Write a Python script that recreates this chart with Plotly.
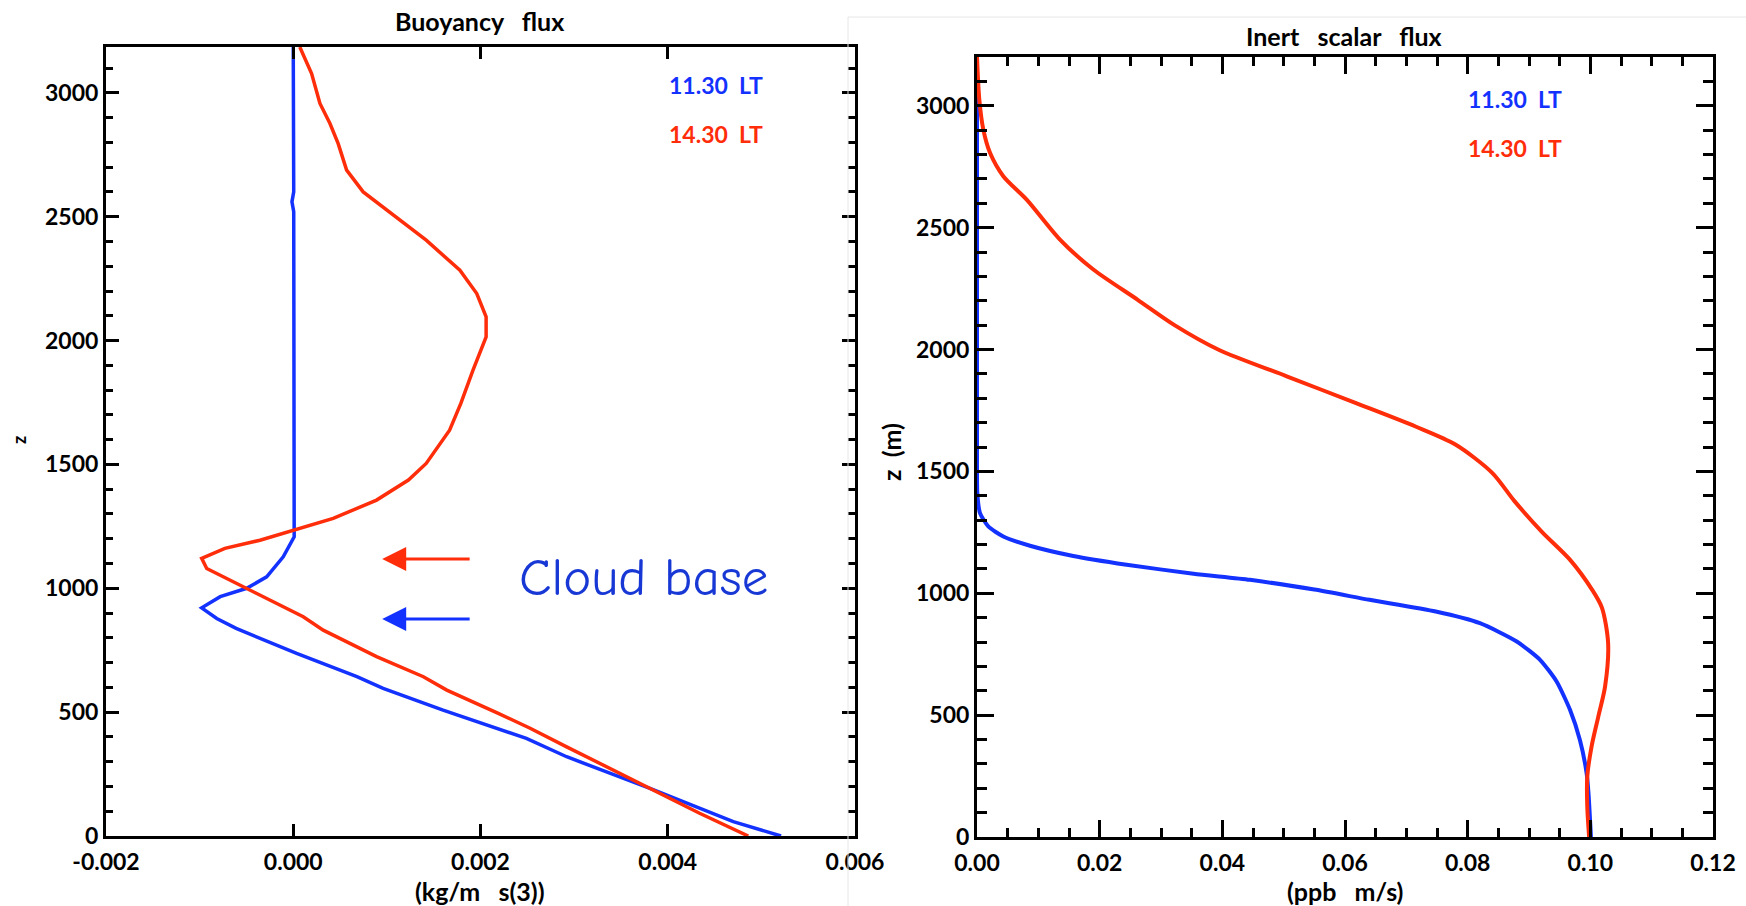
import plotly.graph_objects as go

# ---------------- data: Buoyancy flux (left) ----------------
z_b_1130 = [3185, 3000, 2800, 2600, 2560, 2520, 2300, 2000, 1800, 1600, 1437, 1275, 1208,
            1127, 1046, 1000, 966, 921, 878, 838, 737, 643, 596, 508, 428, 394, 320, 192, 58, 0]
b_1130 = [0.0, 0.000003, 0.000005, 0.000005, -0.000014, 0.000005, 0.000006, 0.000006, 0.000006,
          0.000006, 0.000004, 0.000007, 0.00001, -0.000107, -0.000284, -0.000497, -0.00078,
          -0.000978, -0.000817, -0.00061, 0.000036, 0.00068, 0.00096, 0.0016, 0.00221, 0.00249,
          0.00292, 0.00381, 0.0047, 0.00521]

z_b_1430 = [3185, 3078, 2957, 2876, 2795, 2688, 2600, 2519, 2405, 2284, 2190, 2096, 2015, 1881,
            1746, 1638, 1504, 1437, 1356, 1282, 1235, 1194, 1161, 1121, 1080, 993, 885, 831, 724,
            643, 589, 495, 435, 360, 192, 92, 0]
b_1430 = [0.00007, 0.000196, 0.000285, 0.000392, 0.00048, 0.00057, 0.000747, 0.00103, 0.00142,
          0.00178, 0.00196, 0.00206, 0.00206, 0.00192, 0.00179, 0.00167, 0.00142, 0.00123,
          0.00089, 0.000427, 0.000018, -0.000355, -0.00073, -0.000978, -0.000924, -0.000462,
          0.000107, 0.00032, 0.00089, 0.00139, 0.00164, 0.00219, 0.00253, 0.00292, 0.00381,
          0.00434, 0.00486]

# ---------------- data: Inert scalar flux (right) ----------------
z_s_1130 = [3200, 2500, 2000, 1600, 1411, 1329, 1274, 1233, 1195, 1153, 1117, 1080, 1055, 1015,
            973, 925, 877, 802, 727, 638, 521, 398, 261, 179, 0]
s_1130 = [0.0, 0.0, 0.0, 0.0, 0.00005, 0.00049, 0.00184, 0.00429, 0.00864, 0.0157, 0.0244,
          0.0353, 0.0445, 0.0550, 0.0640, 0.0748, 0.082, 0.088, 0.0918, 0.0945, 0.0967, 0.0983,
          0.0994, 0.0997, 0.1001]

z_s_1430 = [3200, 3025, 2902, 2807, 2711, 2615, 2451, 2328, 2204, 2100, 1999, 1890, 1780, 1684,
            1610, 1494, 1379, 1252, 1137, 1014, 940, 795, 617, 494, 371, 248, 124, 0]
s_1430 = [0.0, 0.00038, 0.00103, 0.00212, 0.00429, 0.0081, 0.01353, 0.01897, 0.0262, 0.0322,
          0.0394, 0.0505, 0.0618, 0.0715, 0.0780, 0.0840, 0.0876, 0.0921, 0.0967, 0.1003, 0.1019,
          0.1029, 0.1024, 0.1013, 0.1002, 0.0995, 0.0995, 0.0998]

# cloud base heights (m) for the two times, arrow x-extent (kg/m s^3)
cloud_base_1130 = 876
cloud_base_1430 = 1118
arrow_tip_x = 0.00095
arrow_tail_x = 0.0019

# ticks
left_x_ticks = [-0.002, 0.000, 0.002, 0.004, 0.006]
left_x_labels = ["-0.002", "0.000", "0.002", "0.004", "0.006"]
z_ticks = [0, 500, 1000, 1500, 2000, 2500, 3000]
z_labels = ["0", "500", "1000", "1500", "2000", "2500", "3000"]
right_x_ticks = [0.00, 0.02, 0.04, 0.06, 0.08, 0.10, 0.12]
right_x_labels = ["0.00", "0.02", "0.04", "0.06", "0.08", "0.10", "0.12"]

BLUE = "#1432ff"
RED = "#ff2d0a"
CB_BLUE = "#1838d6"
W, H = 1746, 906
FONT = "Lato"

fig = go.Figure()
fig.add_trace(go.Scatter(x=b_1130, y=z_b_1130, mode="lines", line=dict(color=BLUE, width=3.5),
                         xaxis="x", yaxis="y", showlegend=False, cliponaxis=False))
fig.add_trace(go.Scatter(x=b_1430, y=z_b_1430, mode="lines", line=dict(color=RED, width=3.5),
                         xaxis="x", yaxis="y", showlegend=False, cliponaxis=False))
fig.add_trace(go.Scatter(x=s_1130, y=z_s_1130, mode="lines",
                         line=dict(color=BLUE, width=4, shape="spline", smoothing=0.6),
                         xaxis="x2", yaxis="y2", showlegend=False))
fig.add_trace(go.Scatter(x=s_1430, y=z_s_1430, mode="lines",
                         line=dict(color=RED, width=4, shape="spline", smoothing=0.8),
                         xaxis="x2", yaxis="y2", showlegend=False))

def px_x(p):
    return p / W

def px_y(p):
    return 1 - p / H

tickfont = dict(family=FONT, size=23, color="black", weight="bold")
common = dict(showline=True, linecolor="black", linewidth=3, mirror="ticks", ticks="inside",
              tickcolor="black", tickwidth=3, showgrid=False, zeroline=False, tickfont=tickfont,
              automargin=False)

fig.update_layout(
    width=W, height=H, margin=dict(l=0, r=0, t=0, b=0, autoexpand=False),
    paper_bgcolor="white", plot_bgcolor="white", showlegend=False,
    xaxis=dict(domain=[px_x(106), px_x(855)], range=[-0.002, 0.006], anchor="y",
               tickvals=left_x_ticks, ticktext=left_x_labels, ticklen=12,
               ticklabelstandoff=3, **common),
    yaxis=dict(domain=[px_y(836), px_y(47)], range=[0, 3185], anchor="x",
               tickvals=z_ticks, ticktext=z_labels, ticklen=13,
               minor=dict(dtick=100, ticklen=7, tickwidth=3, ticks="inside", tickcolor="black",
                          showgrid=False), **common),
    xaxis2=dict(domain=[px_x(977), px_x(1713)], range=[0, 0.12], anchor="y2",
                tickvals=right_x_ticks, ticktext=right_x_labels, ticklen=17,
                ticklabelstandoff=3,
                minor=dict(dtick=0.005, tick0=0, ticklen=9, tickwidth=3, ticks="inside",
                           tickcolor="black", showgrid=False), **common),
    yaxis2=dict(domain=[px_y(837), px_y(57)], range=[0, 3200], anchor="x2",
                tickvals=z_ticks, ticktext=z_labels, ticklen=17,
                minor=dict(dtick=100, ticklen=10, tickwidth=3, ticks="inside", tickcolor="black",
                           showgrid=False), **common),
)

def label(text, x, y, size=22, color="black", angle=0, family=FONT, weight="bold"):
    fig.add_annotation(text=text, x=px_x(x), y=px_y(y), xref="paper", yref="paper",
                       showarrow=False, textangle=angle, xanchor="center", yanchor="middle",
                       font=dict(family=family, size=size, color=color, weight=weight))

# titles
label("Buoyancy   flux", 479, 21, size=25)
label("Inert   scalar   flux", 1344, 36, size=25)
# axis titles
label("(kg/m   s(3))", 480, 891, size=25)
label("(ppb   m/s)", 1345, 891, size=25)
label("z", 19, 440, size=18, angle=-90)
label("z  (m)", 891, 452, size=25, angle=-90)
# legend texts
label("11.30  LT", 716, 85, size=23, color=BLUE)
label("14.30  LT", 716, 134, size=23, color=RED)
label("11.30  LT", 1515, 99, size=23, color=BLUE)
label("14.30  LT", 1515, 148, size=23, color=RED)
# cloud base
label("Cloud base", 643, 577, size=53, color=CB_BLUE, family="Comic Sans MS, Comic Neue, Noto Sans",
      weight="normal")

for zb, col in [(cloud_base_1430, RED), (cloud_base_1130, BLUE)]:
    fig.add_annotation(x=arrow_tip_x, y=zb, ax=arrow_tail_x, ay=zb, xref="x", yref="y",
                       axref="x", ayref="y", text="", showarrow=True, arrowhead=2,
                       arrowsize=1.6, arrowwidth=3, arrowcolor=col, standoff=0)

# faint frame of the right panel
fig.add_shape(type="line", xref="paper", yref="paper", x0=px_x(848), x1=1, y0=px_y(17), y1=px_y(17),
              line=dict(color="#e6e6e6", width=1))
fig.add_shape(type="line", xref="paper", yref="paper", x0=px_x(848), x1=px_x(848), y0=0, y1=px_y(17),
              line=dict(color="#e6e6e6", width=1))

fig.write_html("out.html")
